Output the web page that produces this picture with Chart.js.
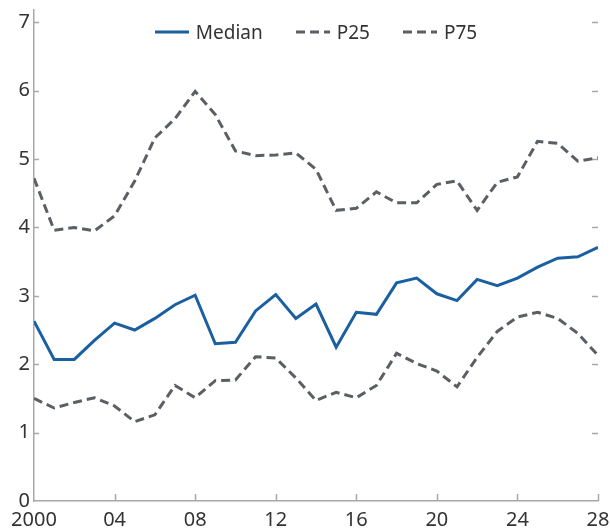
<!DOCTYPE html>
<html>
<head>
<meta charset="utf-8">
<script src="https://cdn.jsdelivr.net/npm/chart.js@4/dist/chart.umd.min.js"></script>
<style>
  html, body { margin: 0; padding: 0; background: #fff; }
  #wrap { position: relative; width: 610px; height: 531px; }
  #legend {
    position: absolute; top: 20px; left: 34px; width: 564px; height: 24px;
    display: flex; justify-content: center; align-items: center; gap: 33px;
    font-family: "Noto Sans", sans-serif; font-size: 19px; color: #333;
  }
  #legend .item { display: flex; align-items: center; gap: 7px; }
  #legend svg { display: block; }
</style>
</head>
<body>
<div id="wrap">
  <canvas id="chart" width="610" height="531"></canvas>
  <div id="legend"></div>
</div>
<script>
// data
const years = [2000, 2001, 2002, 2003, 2004, 2005, 2006, 2007, 2008, 2009,
               2010, 2011, 2012, 2013, 2014, 2015, 2016, 2017, 2018, 2019,
               2020, 2021, 2022, 2023, 2024, 2025, 2026, 2027, 2028];
const median = [2.63, 2.07, 2.07, 2.35, 2.60, 2.50, 2.67, 2.87, 3.01, 2.30,
                2.32, 2.78, 3.02, 2.67, 2.88, 2.25, 2.76, 2.73, 3.19, 3.26,
                3.03, 2.93, 3.24, 3.15, 3.26, 3.42, 3.55, 3.57, 3.71];
const p25 = [1.50, 1.36, 1.44, 1.51, 1.39, 1.16, 1.26, 1.69, 1.51, 1.76,
             1.77, 2.11, 2.09, 1.80, 1.47, 1.59, 1.51, 1.69, 2.16, 2.01,
             1.90, 1.67, 2.10, 2.48, 2.69, 2.76, 2.67, 2.45, 2.13];
const p75 = [4.72, 3.96, 4.00, 3.95, 4.17, 4.68, 5.31, 5.59, 5.99, 5.65,
             5.12, 5.05, 5.06, 5.09, 4.85, 4.25, 4.28, 4.52, 4.36, 4.36,
             4.63, 4.68, 4.25, 4.66, 4.74, 5.26, 5.23, 4.97, 5.02];
const xTickValues = [2000, 2004, 2008, 2012, 2016, 2020, 2024, 2028];
const xTickLabels = ['2000', '04', '08', '12', '16', '20', '24', '28'];
const yTickValues = [0, 1, 2, 3, 4, 5, 6, 7];
const seriesNames = ['Median', 'P25', 'P75'];

const BLUE = '#1a5fa0';
const GREY = '#5b5f64';
const AXIS = '#a8a8a8';
const TEXT = '#333333';
const DASH = [9, 5];
const tickFont = { family: 'Noto Sans', size: 20 };

const toPoints = vals => years.map((yr, i) => ({ x: yr, y: vals[i] }));

// scales should not push the plot area in for their end labels
const noEdgePadding = s => {
    s.paddingTop = 0; s.paddingBottom = 0;
    s.paddingLeft = 0; s.paddingRight = 0;
};

// little tick marks pointing into the plot, left/right/bottom
const innerTicks = {
    id: 'innerTicks',
    beforeDatasetsDraw(chart) {
        const { ctx, chartArea: a, scales: { x, y } } = chart;
        ctx.save();
        ctx.strokeStyle = AXIS;
        ctx.lineWidth = 1.5;
        ctx.beginPath();
        y.ticks.forEach(t => {
            if (t.value === 0) return;
            const py = Math.round(y.getPixelForValue(t.value)) + 0.5;
            ctx.moveTo(a.left, py); ctx.lineTo(a.left + 5, py);
            ctx.moveTo(a.right, py); ctx.lineTo(a.right - 6, py);
        });
        x.ticks.forEach(t => {
            if (t.value === 2000) return;
            const px = Math.round(x.getPixelForValue(t.value)) + 0.5;
            ctx.moveTo(px, a.bottom); ctx.lineTo(px, a.bottom - 7);
        });
        ctx.stroke();
        ctx.restore();
    }
};

const chart = new Chart(document.getElementById('chart').getContext('2d'), {
    type: 'line',
    data: {
        datasets: [
            { label: seriesNames[0], data: toPoints(median), borderColor: BLUE, borderWidth: 3, pointRadius: 0, tension: 0 },
            { label: seriesNames[1], data: toPoints(p25), borderColor: GREY, borderWidth: 3, borderDash: DASH, pointRadius: 0, tension: 0 },
            { label: seriesNames[2], data: toPoints(p75), borderColor: GREY, borderWidth: 3, borderDash: DASH, pointRadius: 0, tension: 0 },
        ],
    },
    options: {
        responsive: false,
        animation: false,
        layout: { padding: { top: 10, right: 12, left: 0, bottom: 0 } },
        plugins: {
            legend: { display: false },
            tooltip: { enabled: false },
        },
        scales: {
            x: {
                type: 'linear',
                min: 2000,
                max: 2028,
                afterBuildTicks: s => { s.ticks = xTickValues.map(v => ({ value: v })); },
                afterFit: s => { s.height = 30; noEdgePadding(s); },
                ticks: {
                    autoSkip: false, maxRotation: 0, padding: 7,
                    color: TEXT, font: tickFont,
                    callback: (v, i) => xTickLabels[i],
                },
                grid: { drawOnChartArea: false, drawTicks: false },
                border: { display: true, color: AXIS, width: 1.5 },
            },
            y: {
                min: 0,
                max: 7.18,
                afterBuildTicks: s => { s.ticks = yTickValues.map(v => ({ value: v })); },
                afterFit: s => { s.width = 34; noEdgePadding(s); },
                ticks: { padding: 4, color: TEXT, font: tickFont },
                grid: { drawOnChartArea: false, drawTicks: false },
                border: { display: true, color: AXIS, width: 1.5 },
            },
        },
    },
    plugins: [innerTicks],
});

// legend drawn as html over the top of the plot
const legend = document.getElementById('legend');
chart.data.datasets.forEach(ds => {
    const item = document.createElement('div');
    item.className = 'item';
    const dash = ds.borderDash ? `stroke-dasharray="${ds.borderDash.join(' ')}"` : '';
    item.innerHTML =
        `<svg width="34" height="6"><line x1="0" y1="3" x2="34" y2="3" stroke="${ds.borderColor}" stroke-width="3" ${dash}/></svg>` +
        `<span>${ds.label}</span>`;
    legend.appendChild(item);
});
</script>
</body>
</html>
